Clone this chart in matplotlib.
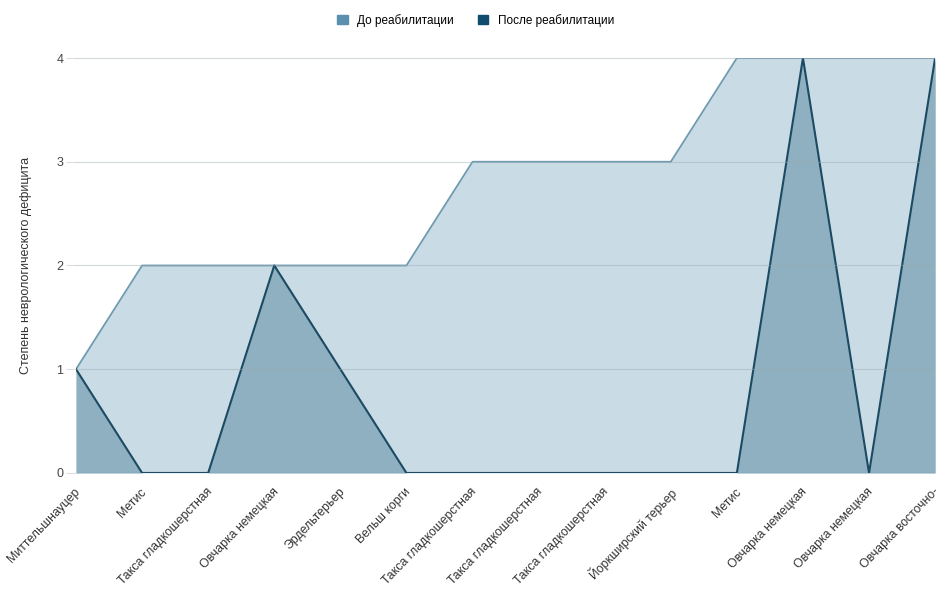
import matplotlib.pyplot as plt
import matplotlib.transforms as mtransforms
import numpy as np

plt.rc("font", family="Liberation Sans", size=9)

breeds = [
    "Миттельшнауцер",
    "Метис",
    "Такса гладкошерстная",
    "Овчарка немецкая",
    "Эрдельтерьер",
    "Вельш корги",
    "Такса гладкошерстная",
    "Такса гладкошерстная",
    "Такса гладкошерстная",
    "Йоркширский терьер",
    "Метис",
    "Овчарка немецкая",
    "Овчарка немецкая",
    "Овчарка восточно-",
]
before = [1, 2, 2, 2, 2, 2, 3, 3, 3, 3, 4, 4, 4, 4]
after = [1, 0, 0, 2, 1, 0, 0, 0, 0, 0, 0, 4, 0, 4]

fill_before = "#c9dce5"
line_before = "#6f9ab0"
fill_after = "#8fb0c0"
line_after = "#1c4a63"

x = np.arange(len(breeds))

fig = plt.figure(figsize=(9.42, 5.89), dpi=100)
ax = fig.add_axes([0.0807, 0.197, 0.912, 0.7045])

ax.fill_between(x, 0, before, color=fill_before, linewidth=0, zorder=1)
ax.plot(x, before, color=line_before, linewidth=1.3, zorder=2)
ax.fill_between(x, 0, after, color=fill_after, linewidth=0, zorder=3)
ax.plot(x, after, color=line_after, linewidth=1.5, zorder=4)

# grid drawn on top, faint, like the original
for yv in range(0, 5):
    ax.axhline(yv, color="#9aaab2" if yv else "#4f6f80", linewidth=0.8,
               alpha=0.45 if yv else 0.9, zorder=5)

ax.set_xlim(0, len(breeds) - 1)
ax.set_ylim(0, 4)
ax.set_yticks(range(0, 5))
ax.set_xticks(x)
ax.set_xticklabels([])
ax.tick_params(axis="y", length=7, color="#dddddd", colors="#444444", pad=2)
ax.tick_params(axis="x", length=0)
for s in ax.spines.values():
    s.set_visible(False)

# category labels, rotated, right end just past the category position
shift = mtransforms.ScaledTranslation(-2 / 100, -13 / 100, fig.dpi_scale_trans)
for xi, name in zip(x, breeds):
    ax.text(xi, 0, name, transform=ax.get_xaxis_transform() + shift,
            rotation=46, ha="right", va="top", rotation_mode="anchor",
            color="#333333", fontsize=8.8, clip_on=False)

ax.set_ylabel("Степень неврологического дефицита", color="#333333",
              fontsize=9, labelpad=18)

handles = [
    plt.Rectangle((0, 0), 1, 1, color="#5b8fae"),
    plt.Rectangle((0, 0), 1, 1, color="#0f4c6e"),
]
fig.legend(handles, ["До реабилитации", "После реабилитации"],
           loc="upper center", bbox_to_anchor=(0.505, 0.995), ncol=2,
           frameon=False, fontsize=8.5, handlelength=0.9, handleheight=0.9,
           columnspacing=2.0, handletextpad=0.8)

fig.savefig("out.png", dpi=100)
